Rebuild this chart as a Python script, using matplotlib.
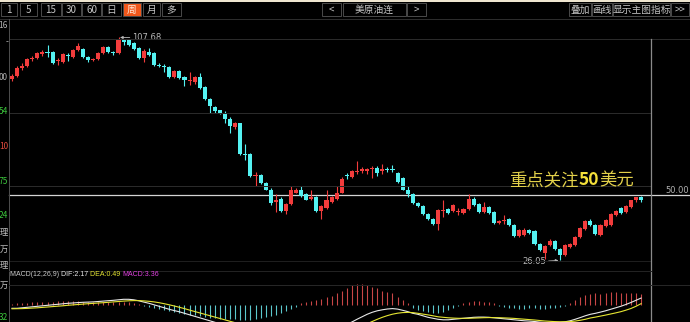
import matplotlib
matplotlib.use("Agg")
import matplotlib.pyplot as plt
from matplotlib.patches import Rectangle
from matplotlib.lines import Line2D
import numpy as np

plt.rcParams['font.family'] = ['Noto Sans CJK SC', 'DejaVu Sans']

W, H = 690, 322

# weekly candles of 美原油连 (OHLC)
opens = [92.5, 93.6, 96.6, 97.3, 99.9, 100.3, 101.8, 102.5, 102.5, 99.2,
         98.8, 101.4, 100.6, 103.2, 103.6, 100.6, 99.5, 99.9, 102.1, 104.3,
         102.5, 102.1, 106.6, 107.0, 105.8, 104.0, 100.3, 102.5, 102.1, 97.7,
         97.3, 96.9, 93.2, 95.4, 93.2, 91.7, 91.4, 93.2, 89.5, 85.1,
         82.1, 81.0, 80.2, 78.0, 75.0, 76.2, 65.0, 65.0, 56.9, 57.2,
         54.3, 52.0, 47.6, 48.7, 44.2, 46.8, 50.9, 52.0, 50.2, 48.7,
         49.4, 44.2, 45.4, 47.6, 48.7, 50.9, 57.2, 56.5, 58.3, 58.7,
         58.7, 59.5, 59.8, 58.7, 59.5, 59.5, 58.0, 56.1, 52.0, 50.2,
         47.2, 46.1, 43.1, 41.3, 39.4, 44.2, 45.0, 44.2, 43.9, 43.5,
         45.0, 48.7, 46.8, 43.9, 45.7, 43.9, 39.8, 40.5, 41.3, 39.1,
         35.0, 35.3, 37.2, 36.8, 32.0, 28.7, 31.6, 33.1, 30.1, 27.9,
         30.9, 31.6, 34.6, 37.6, 40.5, 39.1, 35.3, 38.7, 39.1, 42.8,
         45.4, 43.9, 45.7, 48.0, 49.1]
highs = [94.3, 97.3, 98.4, 100.3, 101.0, 102.5, 103.2, 105.1, 102.9, 100.3,
         102.1, 102.1, 103.6, 105.5, 104.0, 101.0, 100.3, 102.5, 104.7, 104.7,
         102.9, 107.68, 107.3, 107.3, 106.2, 104.3, 103.6, 104.0, 102.5, 98.4,
         98.0, 97.3, 95.8, 95.8, 93.6, 95.1, 93.6, 94.7, 89.9, 85.4,
         82.5, 81.3, 80.6, 78.4, 76.9, 76.5, 68.7, 65.4, 58.3, 57.6,
         54.6, 52.4, 50.2, 49.1, 47.2, 53.2, 52.4, 53.2, 50.6, 52.0,
         49.8, 46.5, 52.0, 49.8, 53.2, 56.5, 58.0, 59.1, 62.4, 60.2,
         59.8, 60.6, 60.6, 61.3, 60.2, 60.9, 58.3, 56.5, 53.2, 50.6,
         47.6, 46.5, 43.5, 41.7, 45.0, 48.3, 45.4, 46.8, 45.4, 45.4,
         50.2, 49.1, 47.2, 47.6, 46.1, 44.2, 40.9, 42.8, 41.7, 39.4,
         37.6, 37.9, 37.6, 37.2, 32.4, 31.6, 33.9, 33.5, 30.5, 32.0,
         32.4, 35.0, 38.3, 40.9, 41.3, 39.4, 39.4, 41.3, 43.5, 44.6,
         45.7, 46.5, 48.3, 49.4, 49.8]
lows = [91.7, 93.2, 95.8, 96.9, 99.2, 99.9, 101.0, 100.6, 98.0, 97.7,
        98.4, 99.2, 100.3, 102.9, 100.3, 98.8, 99.2, 99.5, 101.8, 102.1,
        101.4, 101.8, 105.1, 104.7, 103.2, 99.9, 98.8, 101.0, 97.3, 96.9,
        95.1, 92.8, 92.8, 92.5, 89.9, 90.2, 90.6, 88.8, 84.7, 79.9,
        80.2, 79.5, 76.2, 72.8, 74.3, 64.7, 62.8, 56.5, 53.2, 53.9,
        51.7, 46.5, 43.9, 43.9, 43.1, 46.5, 50.6, 49.4, 48.0, 48.3,
        43.9, 41.3, 45.0, 47.2, 48.3, 50.6, 55.7, 56.1, 57.6, 58.0,
        57.6, 56.1, 56.9, 57.6, 58.3, 58.3, 54.3, 51.7, 49.1, 46.8,
        45.7, 42.8, 40.9, 39.1, 37.2, 42.0, 43.1, 43.9, 42.8, 43.1,
        44.6, 46.1, 43.5, 43.5, 43.1, 39.4, 39.4, 39.4, 38.7, 34.6,
        34.6, 35.0, 35.7, 31.6, 29.4, 26.4, 31.3, 29.8, 26.05, 27.5,
        30.5, 31.3, 34.2, 37.2, 38.7, 35.3, 35.0, 38.3, 38.7, 42.4,
        43.1, 43.5, 45.4, 47.6, 47.6]
closes = [93.6, 96.6, 97.3, 99.9, 100.3, 102.1, 102.5, 102.1, 98.4, 99.5,
          101.8, 101.0, 103.2, 104.7, 100.6, 99.5, 99.9, 102.1, 104.3, 102.5,
          102.1, 106.9, 106.2, 105.1, 103.6, 100.3, 102.9, 101.4, 97.7, 97.3,
          96.9, 93.2, 95.4, 92.8, 92.1, 92.1, 93.2, 89.1, 85.1, 82.5,
          80.6, 79.9, 78.0, 75.4, 76.2, 65.0, 64.7, 56.9, 57.2, 54.3,
          52.0, 47.2, 48.0, 44.2, 46.8, 51.7, 52.0, 49.8, 48.3, 49.4,
          44.2, 46.1, 48.0, 49.4, 50.9, 55.7, 56.9, 58.7, 58.7, 59.5,
          59.5, 59.8, 58.0, 59.5, 59.1, 59.1, 54.6, 52.0, 50.2, 47.2,
          46.1, 43.1, 41.3, 39.4, 44.6, 44.6, 43.5, 46.5, 44.2, 45.0,
          48.7, 46.5, 43.9, 45.7, 43.5, 39.8, 40.5, 40.9, 39.1, 35.0,
          37.2, 37.2, 36.1, 32.0, 29.8, 31.3, 33.1, 30.1, 27.9, 31.6,
          32.0, 34.6, 37.9, 40.5, 39.1, 35.7, 39.1, 40.9, 43.1, 44.2,
          43.5, 46.1, 48.0, 49.1, 48.3]

# MACD(12,26,9) panel
dif = [-0.9, -0.9, -0.75, -0.6, -0.45, -0.3, -0.15, 0, 0.15, 0.3,
       0.45, 0.6, 0.69, 0.81, 0.9, 0.96, 1.02, 1.14, 1.26, 1.38,
       1.5, 1.65, 1.8, 1.8, 1.65, 1.35, 0.96, 0.6, 0.15, -0.3,
       -0.75, -1.2, -1.59, -1.95, -2.4, -2.85, -3.3, -3.75, -4.2, -4.65,
       -5.1, -5.55, -6.0, -6.45, -6.9, -7.5, -7.95, -8.4, -8.7, -8.85,
       -9.0, -9.3, -9.6, -9.75, -9.9, -9.9, -9.81, -9.6, -9.3, -9.0,
       -8.7, -8.34, -7.95, -7.5, -6.96, -6.36, -5.7, -5.01, -4.2, -3.45,
       -2.7, -2.1, -1.65, -1.35, -1.11, -0.99, -1.14, -1.5, -1.89, -2.4,
       -2.7, -3.15, -3.6, -3.9, -4.2, -4.35, -4.35, -4.2, -4.05, -3.9,
       -3.75, -3.6, -3.54, -3.54, -3.6, -3.75, -3.9, -4.05, -4.2, -4.35,
       -4.5, -4.65, -4.74, -4.86, -5.04, -5.16, -5.16, -5.1, -5.1, -4.95,
       -4.65, -4.2, -3.69, -3.15, -2.7, -2.4, -2.04, -1.65, -1.2, -0.75,
       -0.3, 0.24, 0.84, 1.5, 2.17]
dea = [-1.05, -1.02, -0.99, -0.93, -0.84, -0.75, -0.63, -0.51, -0.39, -0.27,
       -0.15, 0, 0.12, 0.24, 0.36, 0.48, 0.57, 0.69, 0.78, 0.9,
       1.02, 1.14, 1.26, 1.35, 1.41, 1.41, 1.32, 1.2, 1.02, 0.78,
       0.48, 0.15, -0.21, -0.6, -0.99, -1.44, -1.86, -2.28, -2.7, -3.12,
       -3.54, -3.96, -4.38, -4.8, -5.22, -5.64, -6.09, -6.54, -6.96, -7.38,
       -7.68, -8.01, -8.34, -8.64, -8.91, -9.12, -9.3, -9.42, -9.42, -9.33,
       -9.21, -9.03, -8.82, -8.55, -8.25, -7.95, -7.59, -7.2, -6.75, -6.24,
       -5.55, -4.86, -4.2, -3.6, -3.09, -2.67, -2.37, -2.19, -2.13, -2.19,
       -2.4, -2.64, -2.88, -3.15, -3.45, -3.6, -3.75, -3.84, -3.9, -3.9,
       -3.9, -3.84, -3.78, -3.72, -3.69, -3.69, -3.72, -3.78, -3.84, -3.93,
       -4.05, -4.17, -4.29, -4.41, -4.56, -4.71, -4.8, -4.89, -4.95, -4.95,
       -4.89, -4.74, -4.5, -4.2, -3.81, -3.54, -3.24, -2.94, -2.61, -2.28,
       -1.92, -1.47, -0.96, -0.3, 0.49]
macd_hist = [0.45, 0.6, 0.6, 0.75, 0.9, 0.9, 0.9, 1.05, 1.05, 1.2,
             1.2, 1.2, 1.2, 1.2, 1.05, 1.05, 1.05, 1.05, 1.05, 1.05,
             1.05, 1.05, 1.05, 0.9, 0.6, 0.3, -0.3, -0.6, -0.9, -1.2,
             -1.5, -1.8, -2.1, -2.4, -2.7, -3.0, -3.0, -3.3, -3.6, -3.9,
             -3.9, -4.2, -4.2, -4.2, -4.2, -4.5, -4.5, -4.5, -4.2, -3.9,
             -3.6, -3.3, -3.0, -2.4, -1.8, -1.2, -0.6, 0.78, 1.11, 1.41,
             1.59, 1.8, 2.4, 2.7, 3.6, 4.2, 5.1, 6.0, 6.3, 6.3,
             6.0, 5.4, 5.1, 4.2, 3.9, 3.6, 2.4, 1.5, 0.6, -0.9,
             -1.5, -1.8, -2.1, -2.4, -2.4, -2.1, -1.5, -0.9, -0.3, 0.6,
             0.9, 1.2, 1.2, 0.9, 0.9, 0.6, -0.3, -0.6, -0.9, -0.9,
             -1.2, -1.2, -0.9, -0.9, -1.2, -1.2, -0.9, -0.9, -0.6, -0.3,
             0.6, 1.5, 2.4, 3.0, 3.3, 3.6, 3.3, 3.6, 3.9, 3.9,
             3.6, 3.6, 3.6, 3.6, 3.36]

period_buttons = ['1', '5', '15', '30', '60', '日', '周', '月', '多']
selected_period = '周'
right_buttons = ['叠加', '画线', '显示主图指标', '>>']
symbol = '美原油连'
ref_level = 50.0
high_mark = 107.68
low_mark = 26.05
note_parts = ['重点关注', '50', '美元']

RED = '#f23c3c'
CYAN = '#54f2f2'
GRAY_TXT = '#c4c4c4'


def fx(x):
    return x / W


def fy(y):
    return 1 - y / H


def fig_line(fig, x0, y0, x1, y1, color, lw=0.72):
    fig.add_artist(Line2D([fx(x0), fx(x1)], [fy(y0), fy(y1)],
                          transform=fig.transFigure, color=color, lw=lw))


def fig_button(fig, x0, x1, label, face='black', tcolor=GRAY_TXT, y0=3, y1=16):
    fig.add_artist(Rectangle((fx(x0), fy(y1)), (x1 - x0) / W, (y1 - y0) / H,
                             transform=fig.transFigure, facecolor=face,
                             edgecolor='#4a4a4a', lw=0.7))
    fig.text(fx((x0 + x1) / 2), fy((y0 + y1) / 2 + 0.5), label, color=tcolor,
             fontsize=7, ha='center', va='center')


def text_run(fig, x0, y, parts, **kw):
    # place pieces of text one after another, measuring each piece
    xx = x0
    for txt, colr, weight in parts:
        t = fig.text(fx(xx), fy(y), txt, color=colr, fontweight=weight,
                     ha='left', va='center', **kw)
        fig.canvas.draw()
        xx += t.get_window_extent().width


fig = plt.figure(figsize=(W / 100, H / 100), dpi=100, facecolor='black')

# ---- toolbar ----
fig.add_artist(Rectangle((0, fy(1.5)), 1, 1.5 / H, transform=fig.transFigure,
                         facecolor='#efe6d0', lw=0))
px = [(1, 17), (20, 37), (41, 61), (62, 81), (82, 101), (102, 121),
      (123, 141), (143, 160), (162, 181)]
for (a, b), lab in zip(px, period_buttons):
    if lab == selected_period:
        fig_button(fig, a, b, lab, face='#f0581c', tcolor='#ffe8d8')
    else:
        fig_button(fig, a, b, lab)
fig_button(fig, 322, 341, '<')
fig_button(fig, 343, 406, symbol)
fig_button(fig, 407, 426, '>')
for (a, b), lab in zip([(569, 591), (592, 612), (613, 670), (671, 689)], right_buttons):
    fig_button(fig, a, b, lab)
fig_line(fig, 0, 18.5, W, 18.5, '#2c2c2c')

# ---- price panel ----
n = len(closes)
x = np.arange(n)
o = np.array(opens)
c = np.array(closes)
up = c >= o
cols = np.where(up, RED, CYAN)

ax = fig.add_axes([fx(9), fy(270), 642 / W, (270 - 18) / H])
ax.set_facecolor('black')
ax.set_xlim(-0.59, 125.96)
ax.set_ylim(22.54, 114.82)
ax.axis('off')

ax.vlines(x, lows, highs, colors=cols, lw=0.8, zorder=2)
body_low = np.minimum(o, c)
body_h = np.maximum(np.abs(c - o), 0.35)
ax.bar(x, body_h, bottom=body_low, width=0.8, color=cols, lw=0, zorder=3)

for yy in [38.5, 112.5, 186.5]:
    fig_line(fig, 9, yy, 651, yy, '#2a2a2a')
fig_line(fig, 9, 260.5, 651, 260.5, '#1e1e1e')
fig_line(fig, 651, 38.5, 690, 38.5, '#2a2a2a')
ax.axhline(ref_level, color='#d4d4d4', lw=0.9, zorder=1, clip_on=False,
           xmax=(690 - 9) / 642)
fig.text(fx(689), fy(190.5), '%.2f' % ref_level, color='#b0b0b0', fontsize=6,
         ha='right', va='center', family='DejaVu Sans')

i_hi = int(np.argmax(highs))
ax.annotate('%.2f' % high_mark, xy=(i_hi + 0.3, high_mark), xytext=(9, 0),
            textcoords='offset points', color='#b8b8b8', fontsize=6,
            va='center', ha='left', family='DejaVu Sans',
            arrowprops=dict(arrowstyle='-|>', color='#b8b8b8', lw=0.6,
                            mutation_scale=4, shrinkA=0, shrinkB=0))
i_lo = int(np.argmin(lows))
ax.annotate('%.2f' % low_mark, xy=(i_lo - 0.3, low_mark), xytext=(-9, -1),
            textcoords='offset points', color='#b8b8b8', fontsize=6,
            va='center', ha='right', family='DejaVu Sans',
            arrowprops=dict(arrowstyle='-|>', color='#b8b8b8', lw=0.6,
                            mutation_scale=4, shrinkA=0, shrinkB=0))

# yellow note
text_run(fig, 509, 180, [(note_parts[0], '#e2d04a', 'normal'),
                         (note_parts[1], '#f4e03a', 'bold'),
                         (note_parts[2], '#e2d04a', 'normal')], fontsize=12.5)

# vertical frame lines
fig_line(fig, 8.5, 18.5, 8.5, H, '#4c4c4c')
fig_line(fig, 651, 38.5, 651, H, '#8a8a8a', lw=0.9)

# left axis labels (truncated by the frame)
left_labels = [('16', 26, '#b0b0b0'), ('-', 42, '#b0b0b0'), ('00', 78, '#b0b0b0'),
               ('54', 112, '#3cc83c'), ('10', 146, '#e04a3c'), ('75', 181, '#3cc83c'),
               ('24', 215, '#3cc83c'), ('理', 232, '#c0c0c0'), ('万', 249, '#c0c0c0'),
               ('理', 265, '#c0c0c0'), ('万', 285, '#c0c0c0'), ('32', 317, '#3cc83c')]
for txt, yy, colr in left_labels:
    fig.text(fx(8), fy(yy), txt, color=colr, fontsize=6, ha='right', va='center')

# ---- MACD panel ----
ax2 = fig.add_axes([fx(9), 0, 642 / W, (H - 270) / H])
ax2.set_facecolor('black')
ax2.set_xlim(-0.59, 125.96)
ax2.set_ylim(-5.01, 10.59)
ax2.axis('off')
mh = np.array(macd_hist)
ax2.vlines(x, 0, mh, colors=np.where(mh >= 0, '#c84646', '#5cc8cc'), lw=0.8)
ax2.plot(x, dif, color='#e8e8e8', lw=0.8)
ax2.plot(x, dea, color='#e6e632', lw=0.8)
fig_line(fig, 9, 270.5, 651, 270.5, '#222222')
fig_line(fig, 9, 284.5, 690, 284.5, '#262626')

text_run(fig, 10, 274, [('MACD(12,26,9) ', '#c8c8c8', 'normal'),
                        ('DIF:%.2f ' % dif[-1], '#e8e8e8', 'normal'),
                        ('DEA:%.2f ' % dea[-1], '#e6e632', 'normal'),
                        ('MACD:%.2f' % macd_hist[-1], '#e040e0', 'normal')],
         fontsize=5, family='Liberation Sans')

fig.savefig('out.png', dpi=100, facecolor='black')
